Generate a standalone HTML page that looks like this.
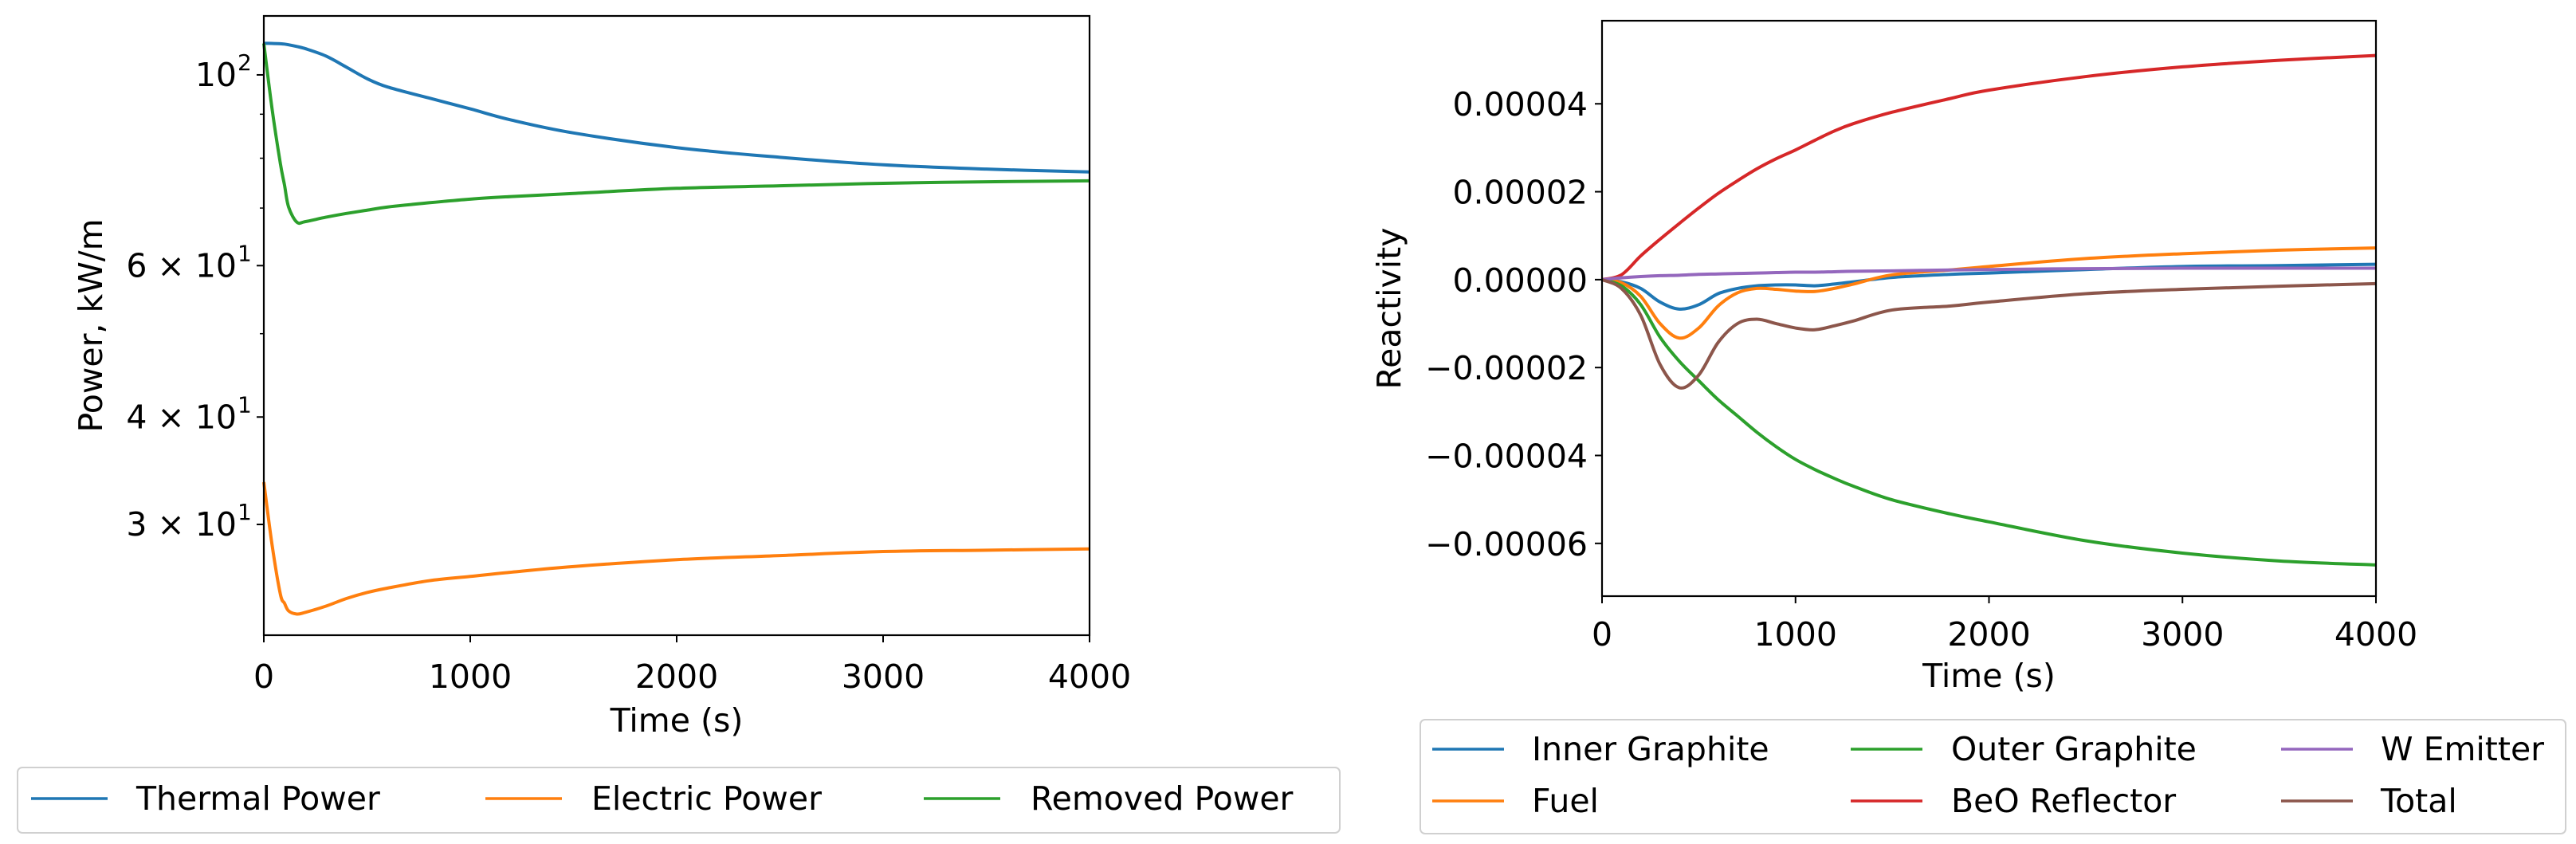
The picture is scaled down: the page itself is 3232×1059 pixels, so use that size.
<!DOCTYPE html>
<html><head><meta charset="utf-8"><style>
html,body{margin:0;padding:0;background:#fff;}
svg{display:block;font-family:"DejaVu Sans","Liberation Sans",sans-serif;}
</style></head><body>
<svg id="svg" width="3232" height="1059" viewBox="0 0 3232 1059" xmlns="http://www.w3.org/2000/svg">
<g id="left"></g>
<g id="right"></g>
</svg>
<script>
const times = [0,40,80,100,120,160,200,300,400,500,600,800,1000,1200,1500,2000,2500,3000,3500,4000];
const thermalPower = [108.8,108.8,108.7,108.6,108.4,107.9,107.3,105.2,102.1,99.0,96.8,94.0,91.3,88.6,85.6,82.3,80.2,78.6,77.7,77.1];
const removedPower = [108.8,91.3,78.9,74.5,70.2,67.4,67.5,68.3,69.0,69.6,70.2,71.0,71.7,72.2,72.8,73.8,74.3,74.8,75.1,75.3];
const electricPower = [33.6,28.4,24.9,24.3,23.8,23.6,23.7,24.1,24.6,25.0,25.3,25.8,26.1,26.4,26.8,27.3,27.6,27.9,28.0,28.1];
const powerTicks = [100,60,40,30];
const powerTickLabels = ["10","6 × 10","4 × 10","3 × 10"];
const powerTickExp = ["2","1","1","1"];
const powerMinorTicks = [90,80,70,50];
const timeTicks = [0,1000,2000,3000,4000];

const rTimes = [0,100,200,300,400,500,600,700,800,900,1000,1100,1200,1300,1500,1800,2000,2500,3000,3500,4000];
const innerGraphite = [0,-0.05,-0.2,-0.51,-0.67,-0.57,-0.32,-0.2,-0.14,-0.12,-0.12,-0.14,-0.1,-0.05,0.05,0.12,0.15,0.23,0.30,0.32,0.35];
const fuel = [0,-0.07,-0.38,-1.0,-1.33,-1.1,-0.6,-0.3,-0.2,-0.22,-0.26,-0.27,-0.2,-0.1,0.11,0.22,0.30,0.48,0.59,0.67,0.72];
const outerGraphite = [0,-0.14,-0.57,-1.31,-1.86,-2.3,-2.73,-3.1,-3.47,-3.8,-4.09,-4.32,-4.52,-4.7,-5.01,-5.33,-5.51,-5.94,-6.22,-6.40,-6.49];
const beoReflector = [0,0.11,0.54,0.92,1.28,1.63,1.96,2.25,2.52,2.75,2.95,3.17,3.38,3.55,3.81,4.12,4.31,4.62,4.84,4.99,5.10];
const wEmitter = [0,0.04,0.07,0.09,0.1,0.12,0.13,0.14,0.15,0.16,0.17,0.17,0.18,0.19,0.2,0.22,0.23,0.25,0.26,0.26,0.26];
const total = [0,-0.2,-0.81,-1.93,-2.46,-2.17,-1.43,-1.0,-0.9,-1.0,-1.1,-1.14,-1.05,-0.94,-0.69,-0.6,-0.51,-0.32,-0.22,-0.15,-0.09];
const reactTicks = [-6,-4,-2,0,2,4];
const reactTickLabels = ["\u22120.00006","\u22120.00004","\u22120.00002","0.00000","0.00002","0.00004"];

const NS="http://www.w3.org/2000/svg";
function mk(parent,tag,attrs,text){const e=document.createElementNS(NS,tag);for(const k in attrs)e.setAttribute(k,attrs[k]);if(text!==undefined)e.textContent=text;parent.appendChild(e);return e;}
function smoothPath(pts){
  let d="M"+pts[0][0].toFixed(2)+","+pts[0][1].toFixed(2);
  for(let i=0;i<pts.length-1;i++){
    const p0=pts[Math.max(0,i-1)],p1=pts[i],p2=pts[i+1],p3=pts[Math.min(pts.length-1,i+2)];
    const c1=[p1[0]+(p2[0]-p0[0])/6,p1[1]+(p2[1]-p0[1])/6];
    const c2=[p2[0]-(p3[0]-p1[0])/6,p2[1]-(p3[1]-p1[1])/6];
    d+=" C"+c1[0].toFixed(2)+","+c1[1].toFixed(2)+" "+c2[0].toFixed(2)+","+c2[1].toFixed(2)+" "+p2[0].toFixed(2)+","+p2[1].toFixed(2);
  }
  return d;
}
const FS=41;
// LEFT
const L=document.getElementById('left');
const lx0=331,lx1=1367,ly0=20,ly1=797;
const lxs=t=>lx0+t/4000*(lx1-lx0);
const lymin=Math.log10(22.3),lymax=Math.log10(117.1);
const lys=v=>ly1-(Math.log10(v)-lymin)/(lymax-lymin)*(ly1-ly0);
function series(g,xs,ys,xsArr,ysArr,color,name){
  const p=mk(g,'path',{d:smoothPath(xsArr.map((t,i)=>[xs(t),ys(ysArr[i])])),fill:'none',stroke:color,'stroke-width':4,'stroke-linejoin':'round'});
  
  
}
series(L,lxs,lys,times,thermalPower,'#1f77b4','thermal-power-line');
series(L,lxs,lys,times,electricPower,'#ff7f0e','electric-power-line');
series(L,lxs,lys,times,removedPower,'#2ca02c','removed-power-line');
mk(L,'rect',{x:lx0,y:ly0,width:lx1-lx0,height:ly1-ly0,fill:'none',stroke:'#000','stroke-width':2.2});
timeTicks.forEach(t=>{
  mk(L,'line',{x1:lxs(t),x2:lxs(t),y1:ly1,y2:ly1+9,stroke:'#000','stroke-width':2});
  const tx=mk(L,'text',{x:lxs(t),y:ly1+66,'font-size':FS,'text-anchor':'middle'},String(t));
  
  
});
powerTicks.forEach((v,i)=>{
  mk(L,'line',{x1:lx0-9,x2:lx0,y1:lys(v),y2:lys(v),stroke:'#000','stroke-width':2});
  const tx=mk(L,'text',{x:lx0-34,y:lys(v)+14,'font-size':FS,'text-anchor':'end'},powerTickLabels[i]);
  
  
  mk(L,'text',{x:lx0-33,y:lys(v)-6,'font-size':28,'text-anchor':'start'},powerTickExp[i]);
});
powerMinorTicks.forEach(v=>{mk(L,'line',{x1:lx0-5,x2:lx0,y1:lys(v),y2:lys(v),stroke:'#000','stroke-width':1.5});});
let t1=mk(L,'text',{x:(lx0+lx1)/2,y:918,'font-size':FS,'text-anchor':'middle'},'Time (s)');

let t2=mk(L,'text',{x:0,y:0,'font-size':FS,'text-anchor':'middle',transform:'translate(128,'+((ly0+ly1)/2)+') rotate(-90)'},'Power, kW/m');

// left legend
const lg=mk(L,'g',{});

mk(lg,'rect',{x:22,y:963,width:1659,height:82,rx:6,fill:'#fff',stroke:'#d0d0d0','stroke-width':2});
[['Thermal Power','#1f77b4',39,171],['Electric Power','#ff7f0e',609,742],['Removed Power','#2ca02c',1159,1293]].forEach(e=>{
  mk(lg,'line',{x1:e[2],x2:e[2]+96,y1:1002,y2:1002,stroke:e[1],'stroke-width':3.5});
  const tx=mk(lg,'text',{x:e[3],y:1016,'font-size':FS},e[0]);
  
});
// RIGHT
const R=document.getElementById('right');
const rx0=2010,rx1=2981,ry0=26,ry1=748;
const rxs=t=>rx0+t/4000*(rx1-rx0);
const rymin=-7.2,rymax=5.89;
const rys=v=>ry1-(v-rymin)/(rymax-rymin)*(ry1-ry0);
series(R,rxs,rys,rTimes,innerGraphite,'#1f77b4','inner-graphite-line');
series(R,rxs,rys,rTimes,fuel,'#ff7f0e','fuel-line');
series(R,rxs,rys,rTimes,outerGraphite,'#2ca02c','outer-graphite-line');
series(R,rxs,rys,rTimes,beoReflector,'#d62728','beo-reflector-line');
series(R,rxs,rys,rTimes,wEmitter,'#9467bd','w-emitter-line');
series(R,rxs,rys,rTimes,total,'#8c564b','total-line');
mk(R,'rect',{x:rx0,y:ry0,width:rx1-rx0,height:ry1-ry0,fill:'none',stroke:'#000','stroke-width':2.2});
timeTicks.forEach(t=>{
  mk(R,'line',{x1:rxs(t),x2:rxs(t),y1:ry1,y2:ry1+9,stroke:'#000','stroke-width':2});
  const tx=mk(R,'text',{x:rxs(t),y:ry1+62,'font-size':FS,'text-anchor':'middle'},String(t));
  
});
reactTicks.forEach((v,i)=>{
  mk(R,'line',{x1:rx0-9,x2:rx0,y1:rys(v),y2:rys(v),stroke:'#000','stroke-width':2});
  const tx=mk(R,'text',{x:rx0-18,y:rys(v)+15,'font-size':FS,'text-anchor':'end'},reactTickLabels[i]);
  
});
let t3=mk(R,'text',{x:(rx0+rx1)/2,y:862,'font-size':FS,'text-anchor':'middle'},'Time (s)');

let t4=mk(R,'text',{x:0,y:0,'font-size':FS,'text-anchor':'middle',transform:'translate(1757,'+((ry0+ry1)/2)+') rotate(-90)'},'Reactivity');

const rg=mk(R,'g',{});

mk(rg,'rect',{x:1782,y:903,width:1437,height:143,rx:6,fill:'#fff',stroke:'#d0d0d0','stroke-width':2});
[['Inner Graphite','#1f77b4',1797,1922,940],['Fuel','#ff7f0e',1797,1922,1005],
 ['Outer Graphite','#2ca02c',2322,2448,940],['BeO Reflector','#d62728',2322,2448,1005],
 ['W Emitter','#9467bd',2862,2987,940],['Total','#8c564b',2862,2987,1005]].forEach(e=>{
  mk(rg,'line',{x1:e[2],x2:e[2]+90,y1:e[4],y2:e[4],stroke:e[1],'stroke-width':3.5});
  const tx=mk(rg,'text',{x:e[3],y:e[4]+14,'font-size':FS},e[0]);
  
});
</script>
</body></html>
